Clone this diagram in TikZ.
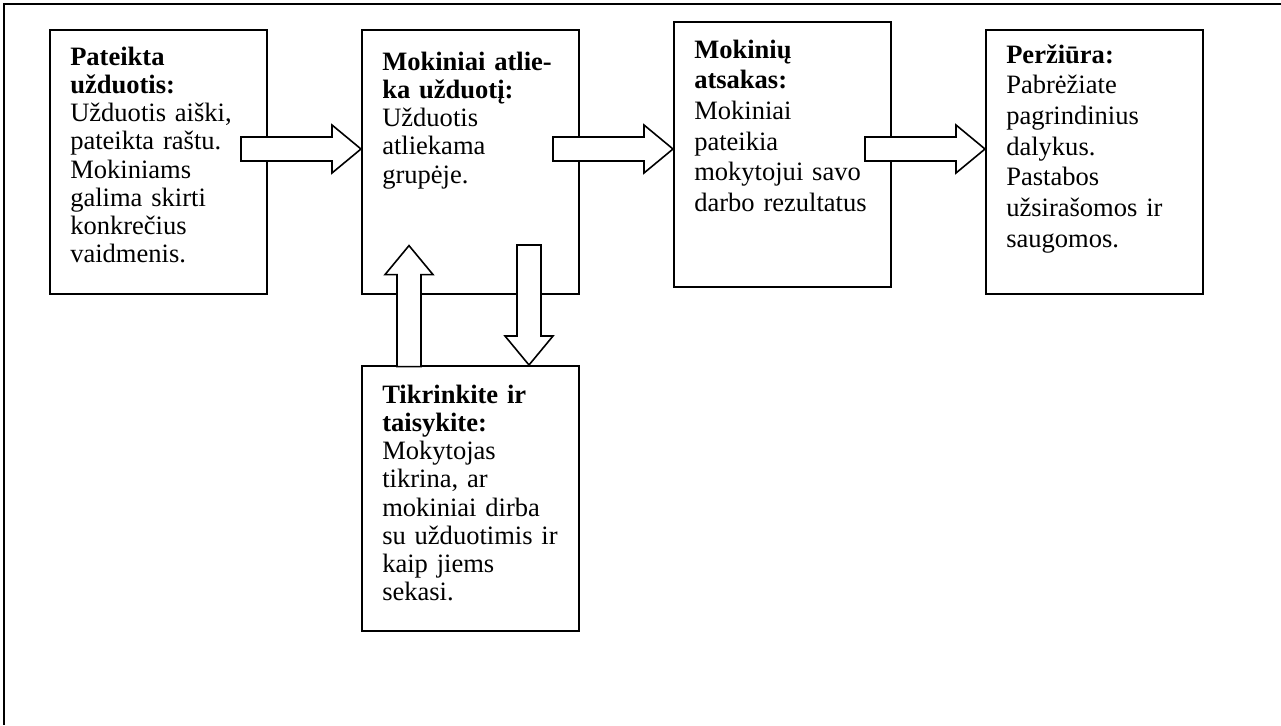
\documentclass[tikz,border=0pt]{standalone}
\usepackage{fontspec}
\setmainfont{Liberation Serif}
\usetikzlibrary{calc}
\newcommand\hbarrow[1]{%
  \draw[blockarrow] ($(#1)+(-120,-12)$) -- ($(#1)+(-29,-12)$) -- ($(#1)+(-29,-24)$) -- (#1)
    -- ($(#1)+(-29,24)$) -- ($(#1)+(-29,12)$) -- ($(#1)+(-120,12)$) -- cycle;}
\newcommand\vbarrow[3]{%
  \draw[blockarrow] ($(#1)+(-12,#2)$) -- ($(#1)+(-12,#3)$) -- ($(#1)+(-24,#3)$) -- (#1)
    -- ($(#1)+(24,#3)$) -- ($(#1)+(12,#3)$) -- ($(#1)+(12,#2)$) -- cycle;}
\begin{document}
\begin{tikzpicture}[x=0.75pt,y=-0.75pt,
  box/.style={draw,line width=1.2pt,rectangle,minimum width=162.75pt,minimum height=198pt,anchor=north west,inner sep=0pt},
  txt/.style={anchor=base west,inner sep=0pt,text width=142pt,align=left,font=\fontsize{19.9pt}{#1}\selectfont},
  txt/.default=21.2pt,
  blockarrow/.style={draw,fill=white,line width=1.2pt,line join=miter},
  frame/.style={line width=2pt}]
\useasboundingbox (0,0) rectangle (1281,725);
% outer frame (top and left edges only)
\coordinate (fr) at (4,4);
\draw[frame] (1281,4) -- (fr) -- (4,725);
% boxes
\node[box] (b1) at (49,29) {};
\node[box] (b2) at (361,29) {};
\node[box,minimum height=198.75pt] (b3) at (673,21) {};
\node[box] (b4) at (985,29) {};
\node[box,minimum height=198.75pt] (b5) at (361,365) {};
% texts
\node[txt] (t1) at ($(b1.north west)+(21,36)$) {\textbf{Pateikta}\\\textbf{užduotis:}\\Užduotis aiški,\\pateikta raštu.\\Mokiniams\\galima skirti\\konkrečius\\vaidmenis.};
\node[txt] (t2) at ($(b2.north west)+(21,41)$) {\textbf{Mokiniai atlie-}\\\textbf{ka užduotį:}\\Užduotis\\atliekama\\grupėje.};
\node[txt=23pt] (t3) at ($(b3.north west)+(21,37)$) {\textbf{Mokinių}\\\textbf{atsakas:}\\Mokiniai\\pateikia\\mokytojui savo\\darbo rezultatus};
\node[txt=23pt] (t4) at ($(b4.north west)+(21,34)$) {\textbf{Peržiūra:}\\Pabrėžiate\\pagrindinius\\dalykus.\\Pastabos\\užsirašomos ir\\saugomos.};
\node[txt] (t5) at ($(b5.north west)+(21,38)$) {\textbf{Tikrinkite ir}\\\textbf{taisykite:}\\Mokytojas\\tikrina, ar\\mokiniai dirba\\su užduotimis ir\\kaip jiems\\sekasi.};
% block arrows
\coordinate (a1) at ($(b2.north west)+(0,120)$);
\coordinate (a2) at ($(b3.north west)+(0,128)$);
\coordinate (a3) at ($(b4.north west)+(0,120)$);
\hbarrow{a1}
\hbarrow{a2}
\hbarrow{a3}
\coordinate (u1) at ($(b2.south west)+(48,-49)$);
\coordinate (d1) at ($(b5.north west)+(168,0)$);
\vbarrow{u1}{121}{29}
\vbarrow{d1}{-120}{-29}
\end{tikzpicture}
\end{document}
